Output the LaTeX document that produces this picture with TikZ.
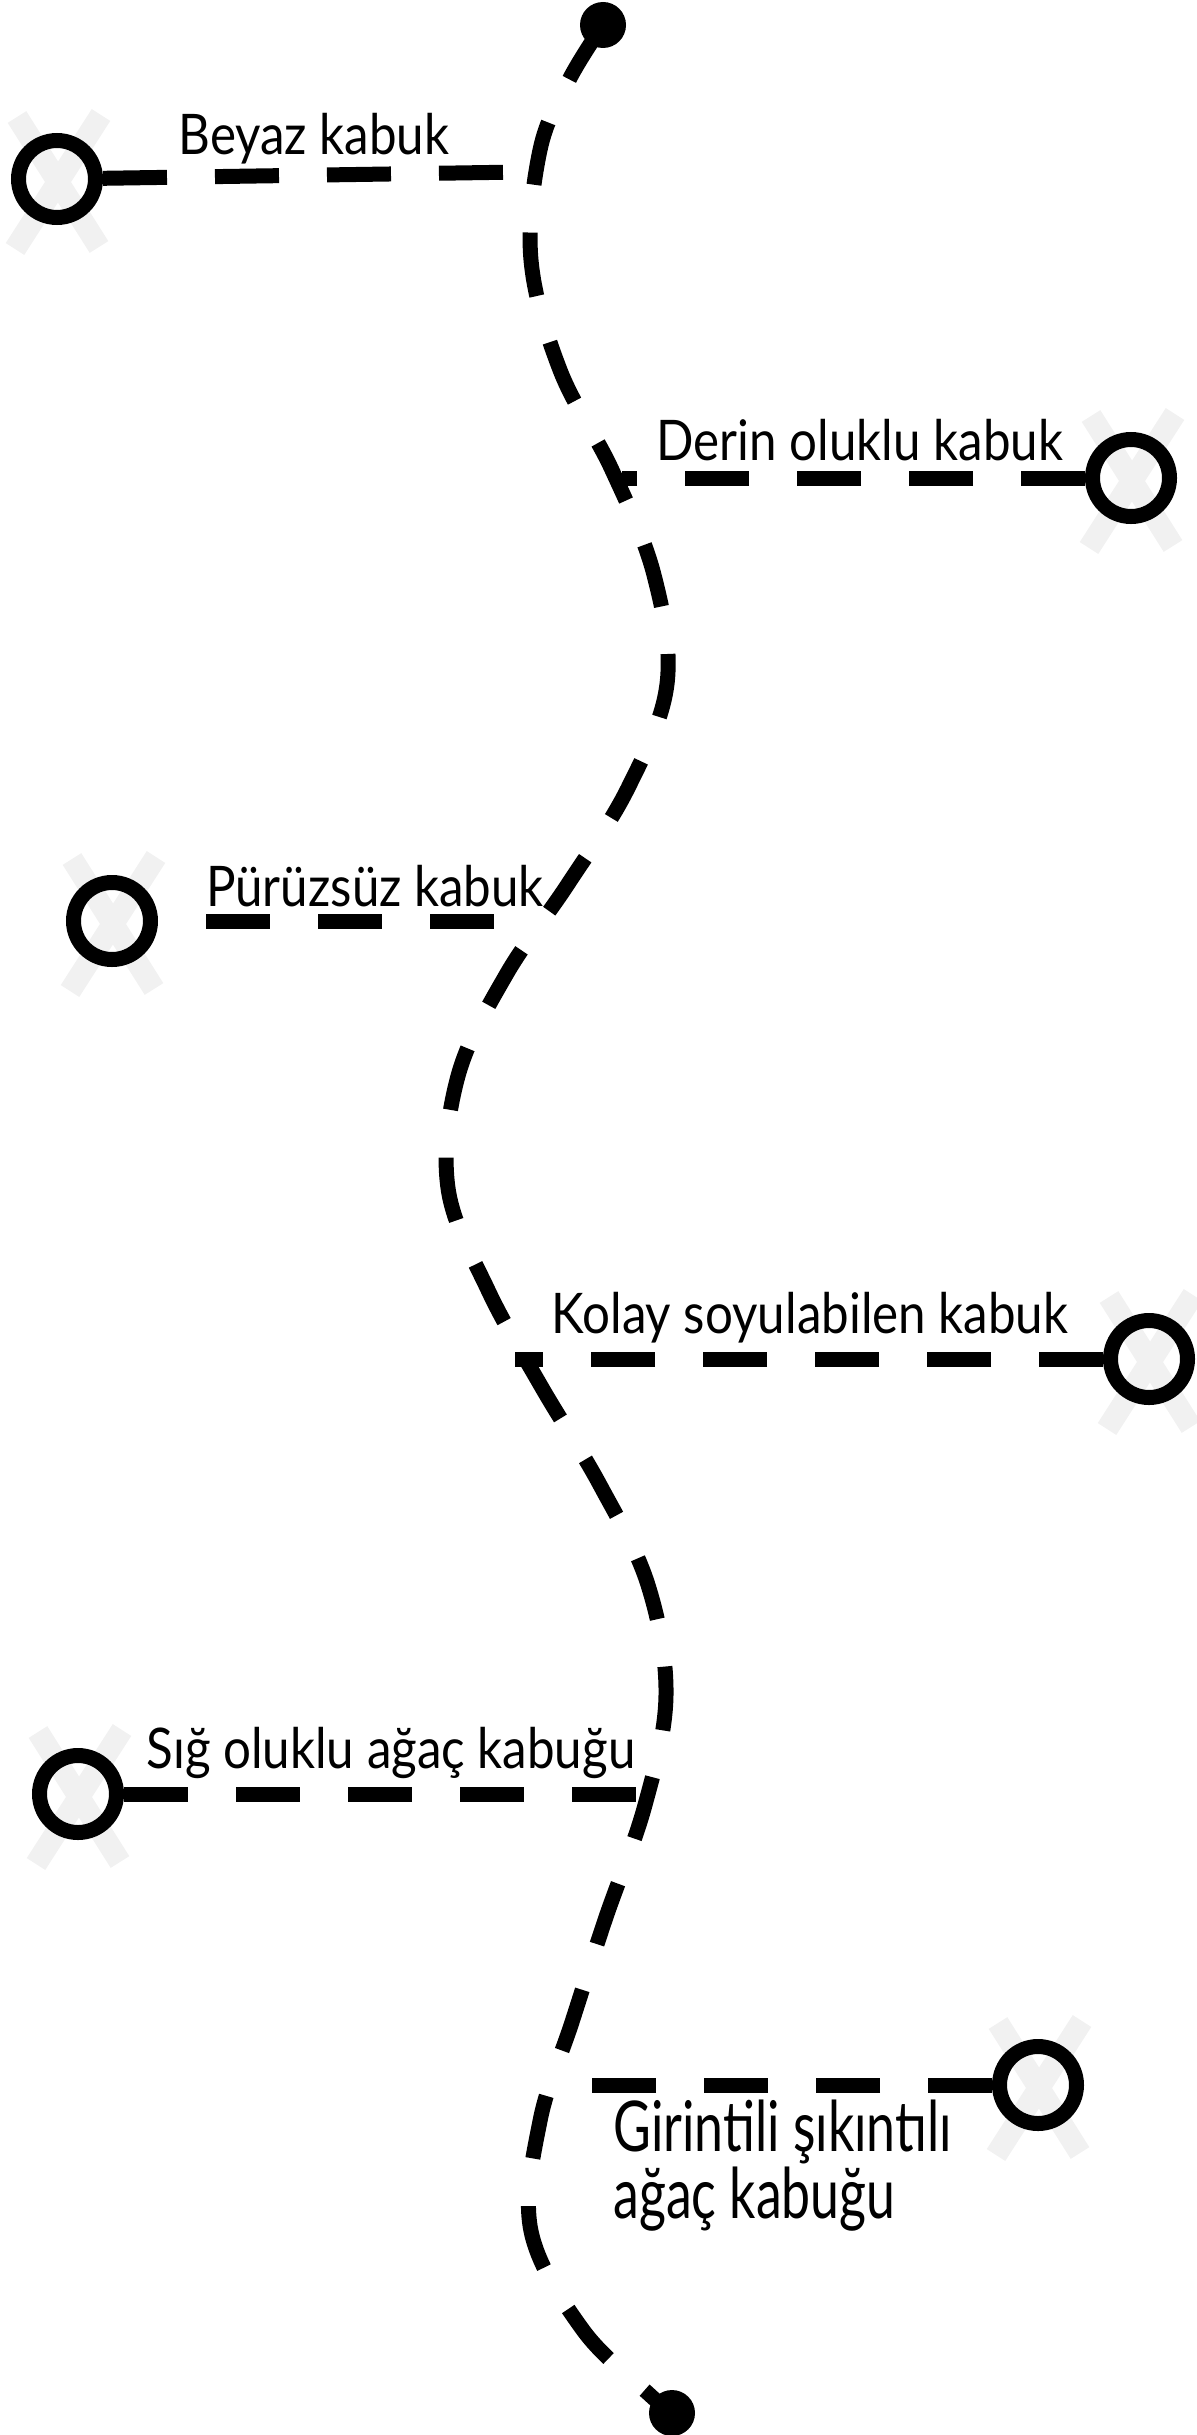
\documentclass[tikz,border=0pt]{standalone}
\usepackage{fontspec}
\setmainfont{Lato}
\newfontfamily\labelfont[FakeStretch=0.88]{Lato}
\newfontfamily\slimfont[FakeStretch=0.74]{Lato}

\newcommand{\trailLineWidth}{7.5pt}
\newcommand{\ringLineWidth}{7.5pt}
\newcommand{\crossLineWidth}{11pt}
\newcommand{\labelSize}{\labelfont\fontsize{28}{30}\selectfont}
\newcommand{\bigLabelSize}{\slimfont\fontsize{35}{30.5}\selectfont}

\tikzset{
  trail/.style={line width=\trailLineWidth, dash pattern=on 32pt off 24pt},
  ring/.style={circle, draw, line width=\ringLineWidth, minimum size=38.5pt, inner sep=0pt},
  dot/.style={circle, fill, minimum size=23pt, inner sep=0pt},
  cross/.style={line width=\crossLineWidth, gray!11},
  caption/.style={anchor=base, font=\labelSize, inner sep=0pt},
}

\begin{document}
\begin{tikzpicture}[x=0.5pt, y=-0.5pt]
        \useasboundingbox (0,0) rectangle (1196,2435);

        % Crosses behind the rings
        \foreach \cx/\cy in {57/179, 1131/478, 112/921, 1149/1359, 78/1794, 1038/2085} {
            \draw[cross] (\cx-40,\cy-62) -- (\cx+42,\cy+68);
            \draw[cross] (\cx+44,\cy-64) -- (\cx-42,\cy+70);
        }

        % End dots
        \node[dot] (topDot) at (603,25) {};
        \node[dot] (bottomDot) at (672,2413) {};

        % Main trail
        \draw[trail] plot[smooth, tension=0.6] coordinates {(topDot.center) (569,80) (540,150) (531,260) (560,370)
            (612,470) (654,575) (667,684) (628,788) (568,884) (506,975) (458,1076) (448,1188) (488,1290)
            (541,1386) (600,1485) (648,1585) (666,1695) (645,1805) (605,1920) (572,2022) (540,2121)
            (531,2231) (583,2330) (650,2395) (bottomDot.center)};

        % Join points on the trail
        \coordinate (beyazJoin) at (522,172);
        \coordinate (derinJoin) at (622,478);
        \coordinate (puruzJoin) at (540,921);
        \coordinate (kolayJoin) at (515,1359);
        \coordinate (sigJoin) at (648,1794);
        \coordinate (girinJoin) at (551,2085);

        % Rings
        \node[ring] (beyaz) at (57,179) {};
        \node[ring] (derin) at (1131,478) {};
        \node[ring] (puruz) at (112,921) {};
        \node[ring] (kolay) at (1149,1359) {};
        \node[ring] (sig) at (78,1794) {};
        \node[ring] (girin) at (1038,2085) {};

        % Branches
        \draw[trail] (beyaz) -- (beyazJoin);
        \draw[trail] (derin) -- (derinJoin);
        \draw[trail, dash phase=32pt] (puruz) -- (puruzJoin);
        \draw[trail] (kolay) -- (kolayJoin);
        \draw[trail] (sig) -- (sigJoin);
        \draw[trail] (girin) -- (girinJoin);

        % Labels
        \node[caption] (beyazText) at (314,155) {Beyaz kabuk};
        \node[caption] (derinText) at (860,460) {Derin oluklu kabuk};
        \node[caption] (puruzText) at (375,906) {Pürüzsüz kabuk};
        \node[caption] (kolayText) at (810,1333) {Kolay soyulabilen kabuk};
        \node[caption] (sigText) at (391,1768) {Sığ oluklu ağaç kabuğu};
        \node[caption, anchor=north west, align=left, font=\bigLabelSize] (girinText) at (613,2100) {Girintili şıkıntılı\\ağaç kabuğu};
    \end{tikzpicture}
\end{document}
